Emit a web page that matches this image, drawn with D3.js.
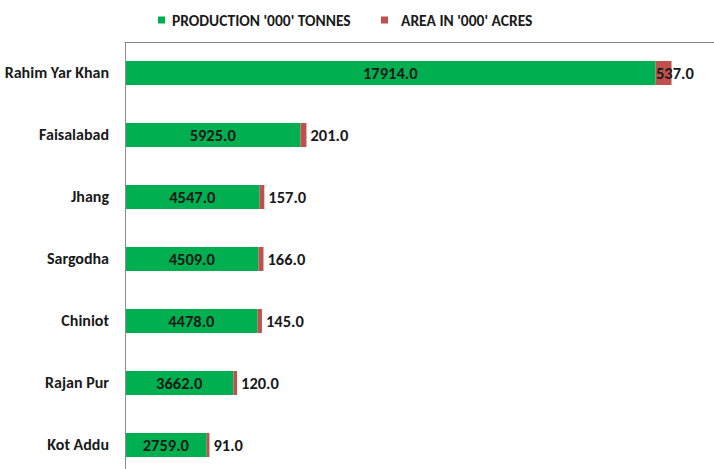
<!DOCTYPE html>
<html><head><meta charset="utf-8">
<script src="https://cdn.jsdelivr.net/npm/d3@7"></script>
<style>
html,body{margin:0;padding:0;background:#fff;}
svg{display:block;font-family:Carlito,Lato,"Open Sans",sans-serif;}
</style></head>
<body><svg id="c" width="714" height="469"></svg>
<script>
const districts = ["Rahim Yar Khan","Faisalabad","Jhang","Sargodha","Chiniot","Rajan Pur","Kot Addu"];
const production = [17914,5925,4547,4509,4478,3662,2759];
const area = [537,201,157,166,145,120,91];
const seriesNames = ["PRODUCTION '000' TONNES","AREA IN '000' ACRES"];
const colors = ["#00B050","#C0504D"];
const xDomain = [0,20000];

(function(){
const W = 714, H = 469;
const svg = d3.select("#c");
const mLeft = 125, mTop = 42;
const x = d3.scaleLinear().domain(xDomain).range([mLeft, mLeft + 592.4]);
const y = d3.scaleBand().domain(districts).range([mTop, mTop + 62*districts.length]).paddingInner(0.613).paddingOuter(0.3065);

const rows = districts.map((d,i)=>({d, p:production[i], a:area[i]}));
const stack = d3.stack().keys(["p","a"])(rows);

svg.append("line").attr("x1",mLeft-0.5).attr("x2",W).attr("y1",mTop+0.5).attr("y2",mTop+0.5).attr("stroke","#7f7f7f").attr("stroke-width",1.2);

stack.forEach((s,si)=>{
  svg.append("g").selectAll("rect").data(s).enter().append("rect")
    .attr("x",d=>x(d[0])).attr("width",d=>x(d[1])-x(d[0]))
    .attr("y",d=>y(d.data.d)).attr("height",y.bandwidth())
    .attr("fill",colors[si]);
});

const ax = svg.append("g").attr("transform",`translate(${mLeft},0)`)
  .call(d3.axisLeft(y).tickSize(0).tickPadding(16));
ax.select(".domain").attr("stroke","#8c8c8c").attr("d",`M0.5,${mTop}V${H}`);
ax.selectAll("text").attr("font-size",16).attr("font-weight","bold").attr("fill","#1a1a1a").attr("font-family","Carlito,Lato,sans-serif");

const fmt = d3.format(".1f");
svg.append("g").selectAll("text").data(stack[0]).enter().append("text")
  .attr("x",d=>(x(d[0])+x(d[1]))/2).attr("y",d=>y(d.data.d)+y.bandwidth()/2)
  .attr("dy","0.36em").attr("text-anchor","middle")
  .attr("font-size",16.5).attr("font-weight","bold").attr("fill","#1a1a1a")
  .text(d=>fmt(d.data.p));
svg.append("g").selectAll("text").data(stack[1]).enter().append("text")
  .attr("x",d=>Math.min(x(d[1])+4, W-58)).attr("y",d=>y(d.data.d)+y.bandwidth()/2)
  .attr("dy","0.36em").attr("text-anchor","start")
  .attr("font-size",16.5).attr("font-weight","bold").attr("fill","#1a1a1a")
  .text(d=>fmt(d.data.a));

const lg = svg.append("g");
const lx = [158,381], tx = [172,401];
seriesNames.forEach((n,i)=>{
  lg.append("rect").attr("x",lx[i]).attr("y",16.5).attr("width",7).attr("height",7).attr("fill",colors[i]);
  lg.append("text").attr("x",tx[i]).attr("y",20).attr("dy","0.36em")
    .attr("font-size",15.5).attr("font-weight","bold").attr("fill","#1a1a1a").text(n);
});
})();
</script></body></html>
